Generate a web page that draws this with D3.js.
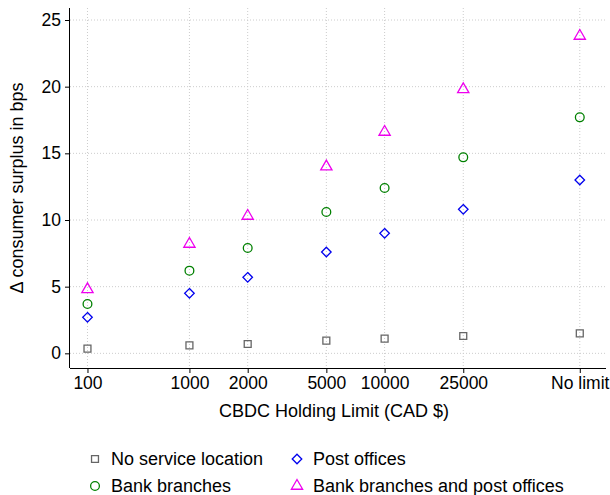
<!DOCTYPE html>
<html><head><meta charset="utf-8">
<script src="https://cdn.jsdelivr.net/npm/d3@7"></script>
<style>body{margin:0;background:#fff;font-family:Arial,"Liberation Sans",sans-serif}</style>
</head><body>
<script>
const categories = ['100', '1000', '2000', '5000', '10000', '25000', 'No limit'];
const catPos = [0, 1.75, 2.75, 4.1, 5.1, 6.45, 8.45];
const noService = [0.35, 0.6, 0.7, 0.95, 1.1, 1.3, 1.5];
const postOffices = [2.7, 4.5, 5.7, 7.6, 9.0, 10.8, 13.0];
const bankBranches = [3.7, 6.2, 7.9, 10.6, 12.4, 14.7, 17.7];
const both = [4.8, 8.2, 10.3, 14.0, 16.6, 19.8, 23.8];
const yTicks = [0, 5, 10, 15, 20, 25];

const width = 610, height = 495;
const margin = {top: 8, right: 4, bottom: 127, left: 70};
const innerW = width - margin.left - margin.right;
const innerH = height - margin.top - margin.bottom;

const x = d3.scaleLinear().domain([-0.3, 8.9]).range([0, innerW]);
const y = d3.scaleLinear().domain([-1.1, 25.9]).range([innerH, 0]);

const svg = d3.select('body').append('svg').attr('width', width).attr('height', height)
  .style('font-family', 'Arial, Liberation Sans, sans-serif');
const g = svg.append('g').attr('transform', `translate(${margin.left},${margin.top})`);

// grid
g.selectAll('.gy').data(yTicks).enter().append('line')
  .attr('x1', 0).attr('x2', innerW).attr('y1', d => y(d)).attr('y2', d => y(d))
  .attr('stroke', '#ccc').attr('stroke-dasharray', '1,2');
g.selectAll('.gx').data(catPos).enter().append('line')
  .attr('y1', 0).attr('y2', innerH).attr('x1', d => x(d)).attr('x2', d => x(d))
  .attr('stroke', '#ccc').attr('stroke-dasharray', '1,2');

const yAxis = g.append('g').call(d3.axisLeft(y).tickValues(yTicks).tickSize(5).tickPadding(4));
yAxis.select('.domain').attr('d', `M-0.5,${innerH}V0`);
const xAxis = g.append('g').attr('transform', `translate(0,${innerH})`)
  .call(d3.axisBottom(x).tickValues(catPos).tickFormat((d, i) => categories[i]).tickSize(5).tickPadding(4));
xAxis.select('.domain').attr('d', `M0,0.5H${innerW}`);
svg.selectAll('.tick text').style('font-size', '17.5px').attr('fill', '#000')
  .style('font-family', 'Arial, Liberation Sans, sans-serif');

svg.append('text').attr('transform', `translate(23,${margin.top + innerH / 2}) rotate(-90)`)
  .attr('text-anchor', 'middle').attr('font-size', 18).text('Δ consumer surplus in bps');
svg.append('text').attr('x', margin.left + innerW / 2 - 4).attr('y', 417)
  .attr('text-anchor', 'middle').attr('font-size', 18).text('CBDC Holding Limit (CAD $)');

const series = [
  {name: 'No service location', vals: noService, color: '#666', shape: d3.symbolSquare, size: 48},
  {name: 'Post offices', vals: postOffices, color: '#0000ee', shape: d3.symbolDiamond2, size: 58},
  {name: 'Bank branches', vals: bankBranches, color: '#008000', shape: d3.symbolCircle, size: 60},
  {name: 'Bank branches and post offices', vals: both, color: '#ee00ee', shape: d3.symbolTriangle, size: 55}
];
series.forEach(s => {
  g.selectAll(null).data(s.vals).enter().append('path')
    .attr('d', d3.symbol(s.shape, s.size))
    .attr('transform', (d, i) => `translate(${x(catPos[i])},${y(d)})`)
    .attr('fill', 'none').attr('stroke', s.color).attr('stroke-width', 1.3);
});

// legend
const legPos = [[95, 459], [297, 459], [95, 486], [297, 486]];
series.forEach((s, i) => {
  const lg = svg.append('g').attr('transform', `translate(${legPos[i][0]},${legPos[i][1]})`);
  lg.append('path').attr('d', d3.symbol(s.shape, s.size)).attr('fill', 'none')
    .attr('stroke', s.color).attr('stroke-width', 1.3);
  lg.append('text').attr('x', 16).attr('y', 6).attr('font-size', 18).text(s.name);
});
</script>
</body></html>
